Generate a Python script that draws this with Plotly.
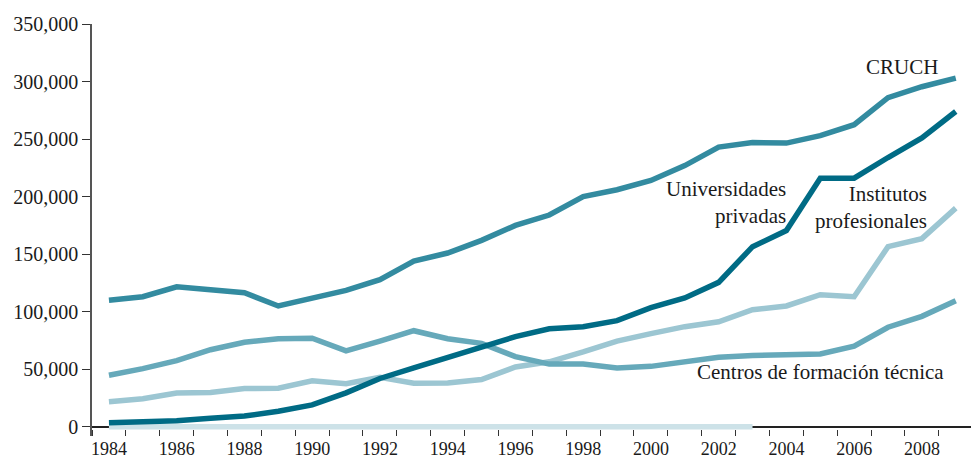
import plotly.graph_objects as go

years = list(range(1984, 2010))
cruch = [110000, 113000, 121700, 119000, 116500, 105000, 112000, 118500, 127800, 144000,
         151000, 162000, 175000, 184000, 200000, 206000, 214000, 227000, 243000, 247000,
         246500, 253000, 262500, 286000, 295500, 303000]
privadas = [3500, 4300, 5200, 7500, 9300, 13500, 19000, 29500, 42000, 51300,
            60000, 69600, 78300, 85200, 87000, 92200, 103500, 112000, 125500, 156500,
            170500, 216000, 216000, 234000, 251000, 274000]
cft = [44800, 50500, 57500, 67000, 73400, 76500, 77000, 66000, 74500, 83500,
       76500, 72500, 61000, 54500, 54500, 51000, 52500, 56500, 60500, 62000,
       62800, 63300, 70000, 86500, 96000, 109600]
ip = [21700, 24300, 29300, 29800, 33200, 33500, 40000, 37400, 43000, 37800,
      38000, 41000, 52000, 56500, 65000, 74500, 81000, 87000, 91300, 101700,
      105000, 114800, 113000, 156500, 163500, 190000]
zero_years = list(range(1984, 2004))
zero_vals = [0] * len(zero_years)

x_label_years = list(range(1984, 2010, 2))
y_ticks = list(range(0, 350001, 50000))

FONT = "Liberation Serif"

fig = go.Figure()
fig.add_trace(go.Scatter(x=zero_years, y=zero_vals, mode="lines",
                         line=dict(color="#cde2e8", width=5.5), name="Otras"))
fig.add_trace(go.Scatter(x=years, y=ip, mode="lines",
                         line=dict(color="#9cc6d2", width=5.5), name="Institutos profesionales"))
fig.add_trace(go.Scatter(x=years, y=cft, mode="lines",
                         line=dict(color="#66a9ba", width=5.5), name="Centros de formación técnica"))
fig.add_trace(go.Scatter(x=years, y=privadas, mode="lines",
                         line=dict(color="#006b85", width=5.5), name="Universidades privadas"))
fig.add_trace(go.Scatter(x=years, y=cruch, mode="lines",
                         line=dict(color="#338ba0", width=5.5), name="CRUCH"))

ann_font = dict(family=FONT, size=21, color="#1a1a1a")
fig.add_annotation(x=2008.54, y=313000, text="CRUCH", showarrow=False,
                   xanchor="right", yanchor="middle", font=ann_font)
fig.add_annotation(x=2004.06, y=194800, text="Universidades<br>privadas", showarrow=False,
                   xanchor="right", yanchor="middle", align="right", font=ann_font)
fig.add_annotation(x=2008.2, y=190900, text="Institutos<br>profesionales", showarrow=False,
                   xanchor="right", yanchor="middle", align="right", font=ann_font)
fig.add_annotation(x=2001.3, y=47800, text="Centros de formación técnica", showarrow=False,
                   xanchor="left", yanchor="middle", font=ann_font)

fig.update_layout(
    width=971, height=458,
    margin=dict(l=92, r=0, t=24, b=22),
    paper_bgcolor="white", plot_bgcolor="white",
    showlegend=False,
    font=dict(family=FONT, size=18, color="#1a1a1a"),
    xaxis=dict(range=[1983.5, 2009.45], tickmode="array", tickvals=x_label_years,
               ticktext=[str(y) for y in x_label_years], ticks="", showgrid=False,
               zeroline=False, showline=False,
               minor=dict(tickmode="linear", tick0=1983.5, dtick=1, ticks="inside",
                          ticklen=6, tickwidth=1.2, tickcolor="#333", showgrid=False),
               tickfont=dict(family=FONT, size=18, color="#1a1a1a")),
    yaxis=dict(range=[-8000, 350000], tickmode="array", tickvals=y_ticks,
               tickformat=",", ticks="outside", ticklen=8, tickwidth=1.2, tickcolor="#333",
               showline=True, linecolor="#555", linewidth=1.5, showgrid=False,
               zeroline=True, zerolinecolor="#222", zerolinewidth=1.5,
               tickfont=dict(family=FONT, size=20, color="#1a1a1a")),
)

fig.write_html("out.html", config={"displayModeBar": False},
               post_script="document.body.style.margin='0';")
